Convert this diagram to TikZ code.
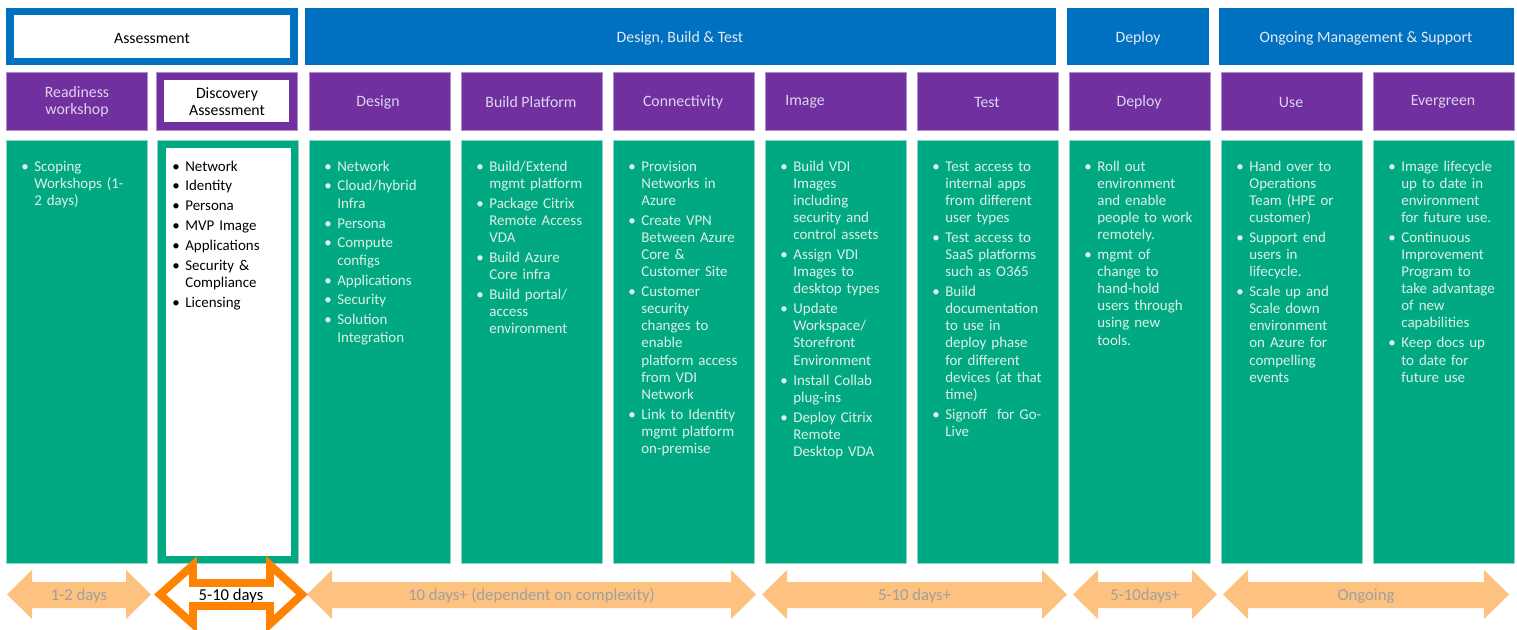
\documentclass[tikz,border=0pt]{standalone}
\usepackage{fontspec}
\setmainfont{Carlito}

\definecolor{phaseblue}{RGB}{0,112,192}
\definecolor{steppurple}{RGB}{112,48,160}
\definecolor{detailgreen}{RGB}{1,169,130}
\definecolor{spanorange}{RGB}{253,193,128}
\definecolor{markorange}{RGB}{255,131,0}
\definecolor{spangray}{RGB}{160,160,160}
\definecolor{headtext}{RGB}{228,234,242}
\definecolor{stagetext}{RGB}{222,212,236}
\definecolor{paletext}{RGB}{222,240,232}

% one bullet point, later lines hang under the text
\newcommand\bitem[1]{{\let\\\newline\parskip=1.6pt\noindent\hangindent=7.4pt\hangafter=1\makebox[7.4pt][l]{\textbullet}#1\par}}

\begin{document}
\begin{tikzpicture}[x=0.02cm, y=-0.02cm,
	phase/.style={fill=phaseblue},
	stage/.style={fill=steppurple, draw=steppurple!55!white, line width=0.4pt},
	detail/.style={fill=detailgreen, draw=detailgreen!45!white, line width=0.4pt},
	phaselabel/.style={text=headtext, font=\fontsize{9}{9.7}\selectfont, align=center},
	stagelabel/.style={text=stagetext, font=\fontsize{9}{9.7}\selectfont, align=center},
	detaillist/.style={text=paletext, font=\fontsize{8.5}{9.75}\selectfont, text width=2.36cm, inner sep=0pt, anchor=base west},
	spanarrow/.style={fill=spanorange},
	spanlabel/.style={text=spangray, font=\fontsize{9.5}{11}\selectfont}]
	\useasboundingbox (0,0) rectangle (1517,629);
	\fill[white] (0,0) rectangle (1517,629);

	% phases
	\fill[phase] (6,8) rectangle (298,65);
	\fill[white] (14,15) rectangle (290,58);
	\node[phaselabel, text=black] (assessment) at (152,38) {Assessment};
	\fill[phase] (305,8) rectangle (1056,65);
	\node[phaselabel] (dbt) at (680,38) {Design, Build \& Test};
	\fill[phase] (1067,8) rectangle (1209,65);
	\node[phaselabel] (deployphase) at (1138,38) {Deploy};
	\fill[phase] (1219,8) rectangle (1514,65);
	\node[phaselabel] (ongoing) at (1366,38) {Ongoing Management \& Support};

	% stages
	\draw[stage] (6,72) rectangle (147,130);
	\node[stagelabel] (readiness) at (77,102) {Readiness\\workshop};
	\draw[stage] (156,72) rectangle (297,130);
	\fill[white] (164,80) rectangle (289,122);
	\node[stagelabel, text=black] (discovery) at (227,102) {Discovery\\Assessment};
	\draw[stage] (309,72) rectangle (450,130);
	\node[stagelabel] (design) at (378,102) {Design};
	\draw[stage] (461,72) rectangle (602,130);
	\node[stagelabel] (build) at (531,102) {Build Platform};
	\draw[stage] (613,72) rectangle (754,130);
	\node[stagelabel] (connectivity) at (683,102) {Connectivity};
	\draw[stage] (765,72) rectangle (906,130);
	\node[stagelabel] (image) at (805,102) {Image};
	\draw[stage] (917,72) rectangle (1058,130);
	\node[stagelabel] (test) at (987,102) {Test};
	\draw[stage] (1069,72) rectangle (1210,130);
	\node[stagelabel] (deploy) at (1139,102) {Deploy};
	\draw[stage] (1221,72) rectangle (1362,130);
	\node[stagelabel] (use) at (1291,102) {Use};
	\draw[stage] (1373,72) rectangle (1514,130);
	\node[stagelabel] (evergreen) at (1443,102) {Evergreen};

	% details
	\draw[detail] (6,140) rectangle (147,563);
	\node[detaillist] (readiness-list) at (21,171) {%
		\bitem{Scoping\\Workshops (1-\\2 days)}};
	\draw[detail] (157,140) rectangle (298,563);
	\fill[white] (166,148) rectangle (291,556);
	\node[detaillist, text=black] (discovery-list) at (172,171) {%
		\bitem{Network}\bitem{Identity}\bitem{Persona}\bitem{MVP Image}%
		\bitem{Applications}\bitem{Security \&\\Compliance}\bitem{Licensing}};
	\draw[detail] (309,140) rectangle (450,563);
	\node[detaillist] (design-list) at (324,171) {%
		\bitem{Network}\bitem{Cloud/hybrid\\Infra}\bitem{Persona}\bitem{Compute\\configs}%
		\bitem{Applications}\bitem{Security}\bitem{Solution\\Integration}};
	\draw[detail] (461,140) rectangle (602,563);
	\node[detaillist] (build-list) at (476,171) {%
		\bitem{Build/Extend\\mgmt platform}\bitem{Package Citrix\\Remote Access\\VDA}%
		\bitem{Build Azure\\Core infra}\bitem{Build portal/\\access\\environment}};
	\draw[detail] (613,140) rectangle (754,563);
	\node[detaillist] (connectivity-list) at (628,171) {%
		\bitem{Provision\\Networks in\\Azure}\bitem{Create VPN\\Between Azure\\Core \&\\Customer Site}%
		\bitem{Customer\\security\\changes to\\enable\\platform access\\from VDI\\Network}%
		\bitem{Link to Identity\\mgmt platform\\on-premise}};
	\draw[detail] (765,140) rectangle (906,563);
	\node[detaillist] (image-list) at (780,171) {%
		\bitem{Build VDI\\Images\\including\\security and\\control assets}%
		\bitem{Assign VDI\\Images to\\desktop types}\bitem{Update\\Workspace/\\Storefront\\Environment}%
		\bitem{Install Collab\\plug-ins}\bitem{Deploy Citrix\\Remote\\Desktop VDA}};
	\draw[detail] (917,140) rectangle (1058,563);
	\node[detaillist] (test-list) at (932,171) {%
		\bitem{Test access to\\internal apps\\from different\\user types}%
		\bitem{Test access to\\SaaS platforms\\such as O365}%
		\bitem{Build\\documentation\\to use in\\deploy phase\\for different\\devices (at that\\time)}%
		\bitem{Signoff~ for Go-\\Live}};
	\draw[detail] (1069,140) rectangle (1210,563);
	\node[detaillist] (deploy-list) at (1084,171) {%
		\bitem{Roll out\\environment\\and enable\\people to work\\remotely.}%
		\bitem{mgmt of\\change to\\hand-hold\\users through\\using new\\tools.}};
	\draw[detail] (1221,140) rectangle (1362,563);
	\node[detaillist] (use-list) at (1236,171) {%
		\bitem{Hand over to\\Operations\\Team (HPE or\\customer)}%
		\bitem{Support end\\users in\\lifecycle.}%
		\bitem{Scale up and\\Scale down\\environment\\on Azure for\\compelling\\events}};
	\draw[detail] (1373,140) rectangle (1514,563);
	\node[detaillist] (evergreen-list) at (1388,171) {%
		\bitem{Image lifecycle\\up to date in\\environment\\for future use.}%
		\bitem{Continuous\\Improvement\\Program to\\take advantage\\of new\\capabilities}%
		\bitem{Keep docs up\\to date for\\future use}};

	% durations
	\foreach \a/\b/\txt/\nm in {7/151/1-2 days/readiness, 307/756/10 days+ (dependent on complexity)/dbt,
			762/1067/5-10 days+/image, 1073/1217/5-10days+/deploy, 1223/1509/Ongoing/ongoing}{
		\fill[spanarrow] (\a,594.5) -- (\a+25,570) -- (\a+25,582) -- (\b-25,582) -- (\b-25,570)
			-- (\b,594.5) -- (\b-25,619) -- (\b-25,608) -- (\a+25,608) -- (\a+25,619) -- cycle;
		\node[spanlabel] (span-\nm) at ({(\a+\b)/2},596) {\txt};
	}
	\draw[markorange, fill=white, line width=4.5pt, line join=miter]
		(160,594.5) -- (193,565) -- (193,583) -- (270,583) -- (270,565) -- (302,594.5)
		-- (270,624) -- (270,606) -- (193,606) -- (193,624) -- cycle;
	\node[spanlabel, text=black] (span-discovery) at (231,596) {5-10 days};
\end{tikzpicture}
\end{document}
